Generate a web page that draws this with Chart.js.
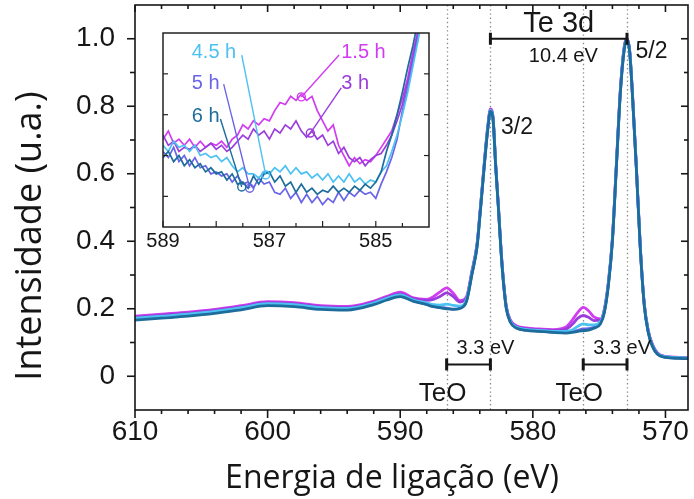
<!DOCTYPE html>
<html lang="pt">
<head>
<meta charset="UTF-8">
<title>Te 3d</title>
<script src="https://cdn.jsdelivr.net/npm/chart.js"></script>
<style>
  body { margin: 0; background: #fff; }
  #wrap { position: relative; width: 694px; height: 499px; }
  #main { position: absolute; left: 0; top: 0; }
  #inset { position: absolute; left: 135px; top: 25px; }
</style>
</head>
<body>
<div id="wrap">
  <canvas id="main" width="694" height="499"></canvas>
  <canvas id="inset" width="305" height="225"></canvas>
</div>
<script>
// ---- full spectra (binding energy in eV, intensity in a.u.) ----
var energy = [610, 608, 606, 604, 602, 600, 598, 596, 594, 592, 591, 590, 589, 588, 587.5, 587, 586.5, 586, 585.5, 585,
  584.6, 584.2, 584.0, 583.8, 583.6, 583.4, 583.2, 583.0, 582.8, 582.6, 582.4, 582.2, 582.0, 581.7,
  581.2, 580.5, 579.5, 578.5, 577.5, 577, 576.6, 576.2, 575.8, 575.4, 574.9, 574.6, 574.3, 574.0, 573.7, 573.4,
  573.1, 572.9, 572.7, 572.5, 572.2, 571.9, 571.6, 571.3, 571.0, 570.6, 570.0, 569.0, 568.3];

var int1_5h = [.178, .184, .190, .198, .209, .221, .218, .209, .207, .223, .237, .249, .232, .228, .236, .250, .262, .246, .224, .236,
  .310, .395, .480, .570, .660, .740, .792, .767, .627, .507, .377, .277, .207, .167,
  .149, .143, .140, .138, .146, .168, .190, .204, .194, .176, .170, .200, .280, .409, .629, .849, .979, 1.0, .966, .846, .626, .386, .216, .136, .096, .069, .059, .056, .055];
var int3h = [.175, .181, .187, .195, .206, .218, .215, .206, .204, .220, .234, .244, .230, .225, .228, .236, .247, .236, .220, .232,
  .308, .392, .477, .567, .657, .737, .790, .765, .625, .505, .375, .275, .205, .165,
  .147, .141, .138, .136, .140, .155, .172, .180, .175, .165, .166, .198, .278, .407, .627, .847, .977, 1.0, .965, .845, .625, .385, .215, .135, .095, .068, .058, .055, .054];
var int4_5h = [.172, .178, .184, .192, .203, .215, .212, .203, .201, .217, .231, .241, .226, .217, .212, .211, .214, .210, .208, .228,
  .305, .390, .475, .565, .655, .735, .788, .763, .623, .503, .373, .273, .203, .163,
  .145, .139, .136, .133, .133, .138, .148, .155, .152, .152, .162, .196, .276, .405, .625, .845, .975, .998, .963, .843, .623, .383, .213, .133, .093, .067, .058, .055, .054];
var int5h = [.170, .176, .182, .190, .201, .213, .210, .201, .199, .215, .229, .239, .224, .213, .207, .204, .202, .199, .202, .224,
  .302, .388, .472, .562, .652, .732, .787, .762, .622, .502, .372, .272, .202, .162,
  .143, .137, .134, .131, .130, .132, .136, .140, .141, .145, .158, .193, .273, .402, .622, .842, .972, .998, .962, .842, .622, .382, .212, .132, .092, .066, .057, .054, .053];
var int6h = [.166, .172, .178, .186, .197, .209, .206, .198, .196, .212, .226, .236, .222, .212, .206, .203, .200, .198, .201, .222,
  .300, .385, .470, .560, .650, .730, .785, .760, .620, .500, .370, .270, .200, .160,
  .142, .136, .133, .130, .128, .130, .133, .135, .137, .142, .155, .190, .270, .400, .620, .840, .970, 1.0, .960, .840, .620, .380, .210, .130, .090, .065, .056, .053, .052];

// ---- inset: zoom on the TeO 3d3/2 region ----
var insetEnergy = [589.0, 588.9, 588.8, 588.7, 588.6, 588.5, 588.4, 588.3, 588.2, 588.1,
  588.0, 587.9, 587.8, 587.7, 587.6, 587.5, 587.4, 587.3, 587.2, 587.1,
  587.0, 586.9, 586.8, 586.7, 586.6, 586.5, 586.4, 586.3, 586.2, 586.1,
  586.0, 585.9, 585.8, 585.7, 585.6, 585.5, 585.4, 585.3, 585.2, 585.1,
  585.0, 584.9, 584.8, 584.7, 584.6, 584.5, 584.4, 584.3, 584.2, 584.1, 584.0];
var ins1_5h = [.228, .232, .226, .228, .225, .228, .224, .227, .224, .226, .225, .227, .224, .228, .230, .235, .233, .237, .235, .238,
  .237, .242, .246, .245, .249, .247, .250, .247, .249, .242, .237, .232, .235, .225, .220, .215, .219, .216, .218, .217,
  .220, .224, .228, .232, .240, .248, .258, .271, .282, .297, .308];
var ins3h = [.230, .225, .227, .222, .224, .223, .225, .222, .224, .226, .223, .225, .222, .224, .227, .230, .228, .233, .230, .232,
  .228, .233, .231, .235, .233, .237, .232, .229, .232, .228, .230, .225, .227, .221, .224, .219, .217, .219, .215, .218,
  .220, .221, .225, .230, .237, .245, .256, .268, .281, .295, .307];
var ins4_5h = [.225, .222, .227, .224, .225, .222, .225, .220, .221, .219, .220, .217, .219, .215, .212, .214, .211, .211, .209, .212,
  .211, .214, .212, .215, .211, .214, .211, .212, .209, .211, .208, .211, .207, .210, .207, .211, .207, .209, .206, .208,
  .207, .212, .215, .222, .230, .240, .251, .264, .277, .292, .304];
var ins5h = [.222, .219, .224, .217, .220, .215, .219, .214, .215, .211, .212, .210, .211, .207, .210, .206, .207, .204, .209, .206,
  .207, .202, .201, .204, .199, .202, .197, .201, .197, .200, .196, .199, .197, .202, .198, .202, .200, .203, .201, .202,
  .199, .206, .212, .219, .228, .242, .253, .266, .279, .294, .305];
var ins6h = [.219, .222, .217, .220, .215, .218, .214, .216, .212, .214, .211, .212, .208, .211, .206, .207, .204, .210, .206, .211,
  .212, .207, .210, .205, .207, .202, .206, .202, .204, .201, .203, .202, .205, .202, .204, .202, .205, .203, .206, .204,
  .207, .212, .222, .230, .240, .251, .263, .274, .287, .300, .312];

var seriesNames = ['1.5 h', '3 h', '4.5 h', '5 h', '6 h'];
var seriesColors = ['#d23cf0', '#9b3ddc', '#4cc1f2', '#6a64e8', '#1c6c9c'];
var drawOrder = [4, 3, 1, 2, 0]; // 6 h on top

var xTickVals = [610, 600, 590, 580, 570];
var xTickLabels = ['610', '600', '590', '580', '570'];
var yTickVals = [0, 0.2, 0.4, 0.6, 0.8, 1.0];
var yTickLabels = ['0', '0.2', '0.4', '0.6', '0.8', '1.0'];
var insetTickVals = [589, 587, 585];
var insetTickLabels = ['589', '587', '585'];

var peakPos = [583.2, 572.9];   // Te 3d3/2, 3d5/2
var teoPos = [586.5, 576.2];    // TeO components

var ink = '#161616';
var tickFont = 'Liberation Sans, Arial, sans-serif';
var titleFont = 'Open Sans, sans-serif';

function line(ctx, x1, y1, x2, y2) {
  ctx.beginPath(); ctx.moveTo(x1, y1); ctx.lineTo(x2, y2); ctx.stroke();
}
function text(ctx, s, px, py, size, align, color, family) {
  ctx.font = size + 'px ' + (family || tickFont);
  ctx.fillStyle = color || ink;
  ctx.textAlign = align || 'center';
  ctx.textBaseline = 'middle';
  ctx.fillText(s, px, py);
}
function bracket(ctx, x1, x2, py, h) {
  ctx.lineWidth = 2;
  line(ctx, x1, py, x2, py);
  ctx.lineWidth = 3;
  line(ctx, x1, py - h, x1, py + h);
  line(ctx, x2, py - h, x2, py + h);
}

function pts(xs, ys) { return xs.map(function (e, i) { return {x: e, y: ys[i]}; }); }

var mainSeries = [int1_5h, int3h, int4_5h, int5h, int6h];
var insetSeries = [ins1_5h, ins3h, ins4_5h, ins5h, ins6h];

var mainDecor = {
  id: 'mainDecor',
  beforeDatasetsDraw: function (chart) {
    var ctx = chart.ctx, a = chart.chartArea, x = chart.scales.x;
    ctx.save();
    ctx.strokeStyle = '#8c8c8c';
    ctx.lineWidth = 1.3;
    ctx.setLineDash([1.4, 2.8]);
    teoPos.concat(peakPos).forEach(function (e) {
      var px = Math.round(x.getPixelForValue(e)) + 0.5;
      line(ctx, px, a.top, px, a.bottom);
    });
    ctx.restore();
  },
  afterDraw: function (chart) {
    var ctx = chart.ctx, a = chart.chartArea, x = chart.scales.x, y = chart.scales.y;
    ctx.save();
    ctx.strokeStyle = ink;
    ctx.lineWidth = 1.6;
    ctx.strokeRect(a.left, a.top, a.right - a.left, a.bottom - a.top);
    for (var e = 570; e <= 610; e += 2) {
      var px = x.getPixelForValue(e), major = e % 10 === 0;
      line(ctx, px, a.bottom, px, a.bottom + (major ? 8 : 4));
      line(ctx, px, a.top, px, a.top + (major ? 7 : 4));
    }
    for (var k = 0; k <= 10; k++) {
      var py = y.getPixelForValue(k / 10), maj = k % 2 === 0;
      line(ctx, a.left - (maj ? 8 : 5), py, a.left, py);
      line(ctx, a.right, py, a.right - (maj ? 7 : 4), py);
    }
    // axis titles, placed as in the figure (not centred on the plot)
    text(ctx, 'Energia de ligação (eV)', 392, 479, 32, 'center', ink, titleFont);
    ctx.save();
    ctx.translate(31, 236);
    ctx.rotate(-Math.PI / 2);
    text(ctx, 'Intensidade (u.a.)', 0, 0, 36, 'center', ink, titleFont);
    ctx.restore();
    // Te 3d spin-orbit splitting
    var p1 = x.getPixelForValue(peakPos[0]), p2 = x.getPixelForValue(peakPos[1]);
    bracket(ctx, p1, p2, y.getPixelForValue(1.0), 6);
    text(ctx, 'Te 3d', x.getPixelForValue(578.05), y.getPixelForValue(1.045), 29);
    text(ctx, '10.4 eV', x.getPixelForValue(577.7), y.getPixelForValue(0.947), 20);
    text(ctx, '3/2', x.getPixelForValue(582.4), y.getPixelForValue(0.737), 23, 'left');
    text(ctx, '5/2', x.getPixelForValue(572.26), y.getPixelForValue(0.962), 23, 'left');
    // TeO shifts
    for (var i = 0; i < 2; i++) {
      var t = x.getPixelForValue(teoPos[i]), m = x.getPixelForValue(peakPos[i]);
      bracket(ctx, t, m, y.getPixelForValue(0.035), 6);
      text(ctx, '3.3 eV', (t + m) / 2 + 17, y.getPixelForValue(0.083), 20);
      text(ctx, 'TeO', t - 4, y.getPixelForValue(-0.053), 26);
    }
    ctx.restore();
  }
};

new Chart(document.getElementById('main'), {
  type: 'line',
  data: {
    datasets: mainSeries.map(function (s, i) {
      return {
        label: seriesNames[i], data: pts(energy, s), borderColor: seriesColors[i],
        borderWidth: 2.8, pointRadius: 0, fill: false, cubicInterpolationMode: 'monotone',
        order: drawOrder[i]
      };
    })
  },
  options: {
    responsive: false, animation: false,
    layout: {padding: {top: 5, right: 6, left: 0, bottom: 0}},
    plugins: {legend: {display: false}, tooltip: {enabled: false}},
    scales: {
      x: {
        type: 'linear', reverse: true, min: 568.3, max: 610,
        afterBuildTicks: function (s) { s.ticks = xTickVals.map(function (v) { return {value: v}; }); },
        afterFit: function (s) { s.height = 89; s.paddingLeft = 0; s.paddingRight = 0; },
        grid: {display: false, drawTicks: false}, border: {display: false},
        ticks: {
          autoSkip: false, maxRotation: 0, padding: 5, color: ink,
          font: {family: tickFont, size: 28},
          callback: function (v, i) { return xTickLabels[i]; }
        }
      },
      y: {
        min: -0.1, max: 1.1,
        afterBuildTicks: function (s) { s.ticks = yTickVals.map(function (v) { return {value: v}; }); },
        afterFit: function (s) { s.width = 135; s.paddingTop = 0; s.paddingBottom = 0; },
        grid: {display: false, drawTicks: false}, border: {display: false},
        ticks: {
          padding: 20, color: ink, font: {family: tickFont, size: 28},
          callback: function (v, i) { return yTickLabels[i]; }
        }
      }
    }
  },
  plugins: [mainDecor]
});

// inset annotations: label anchor, leader start, marked point (data coords)
var insetNotes = [
  {lx: 585.65, ly: 0.2707, sx: 585.69, sy: 0.2692, px: 586.40, py: 0.2487},
  {lx: 585.65, ly: 0.2555, sx: 585.65, sy: 0.2531, px: 586.23, py: 0.2310},
  {lx: 588.46, ly: 0.2707, sx: 587.52, sy: 0.2692, px: 587.07, py: 0.2105},
  {lx: 588.46, ly: 0.2555, sx: 587.86, sy: 0.2550, px: 587.37, py: 0.2040},
  {lx: 588.46, ly: 0.2389, sx: 587.92, sy: 0.2379, px: 587.52, py: 0.2046}
];

var insetDecor = {
  id: 'insetDecor',
  afterDraw: function (chart) {
    var ctx = chart.ctx, a = chart.chartArea, x = chart.scales.x, y = chart.scales.y;
    ctx.save();
    ctx.strokeStyle = '#222';
    ctx.lineWidth = 1.5;
    ctx.strokeRect(a.left, a.top, a.right - a.left, a.bottom - a.top);
    ctx.lineWidth = 1.2;
    for (var e = 584.5; e <= 589; e += 0.5) {
      var px = x.getPixelForValue(e);
      line(ctx, px, a.bottom, px, a.bottom - (e % 1 === 0 ? 6 : 4));
    }
    [0.20, 0.22, 0.24, 0.26].forEach(function (v) {
      var py = y.getPixelForValue(v);
      line(ctx, a.left, py, a.left + 5, py);
      line(ctx, a.right, py, a.right - 5, py);
    });
    insetNotes.forEach(function (n, i) {
      ctx.strokeStyle = seriesColors[i];
      ctx.lineWidth = 1.4;
      var cx = x.getPixelForValue(n.px), cy = y.getPixelForValue(n.py);
      line(ctx, x.getPixelForValue(n.sx), y.getPixelForValue(n.sy), cx, cy);
      ctx.beginPath(); ctx.arc(cx, cy, 4, 0, Math.PI * 2); ctx.stroke();
      text(ctx, seriesNames[i], x.getPixelForValue(n.lx), y.getPixelForValue(n.ly), 20, 'left', seriesColors[i]);
    });
    ctx.restore();
  }
};

new Chart(document.getElementById('inset'), {
  type: 'line',
  data: {
    datasets: insetSeries.map(function (s, i) {
      return {
        label: seriesNames[i], data: pts(insetEnergy, s), borderColor: seriesColors[i],
        borderWidth: 1.7, pointRadius: 0, fill: false, tension: 0, order: drawOrder[i]
      };
    })
  },
  options: {
    responsive: false, animation: false,
    layout: {padding: {top: 8, right: 11, left: 28, bottom: 0}},
    plugins: {legend: {display: false}, tooltip: {enabled: false}},
    scales: {
      x: {
        type: 'linear', reverse: true, min: 584, max: 589,
        afterBuildTicks: function (s) { s.ticks = insetTickVals.map(function (v) { return {value: v}; }); },
        afterFit: function (s) { s.height = 23; s.paddingLeft = 0; s.paddingRight = 0; },
        grid: {display: false, drawTicks: false}, border: {display: false},
        ticks: {
          autoSkip: false, maxRotation: 0, padding: 2, color: ink,
          font: {family: tickFont, size: 20},
          callback: function (v, i) { return insetTickLabels[i]; }
        }
      },
      y: {display: false, min: 0.185, max: 0.28}
    }
  },
  plugins: [insetDecor]
});
</script>
</body>
</html>
